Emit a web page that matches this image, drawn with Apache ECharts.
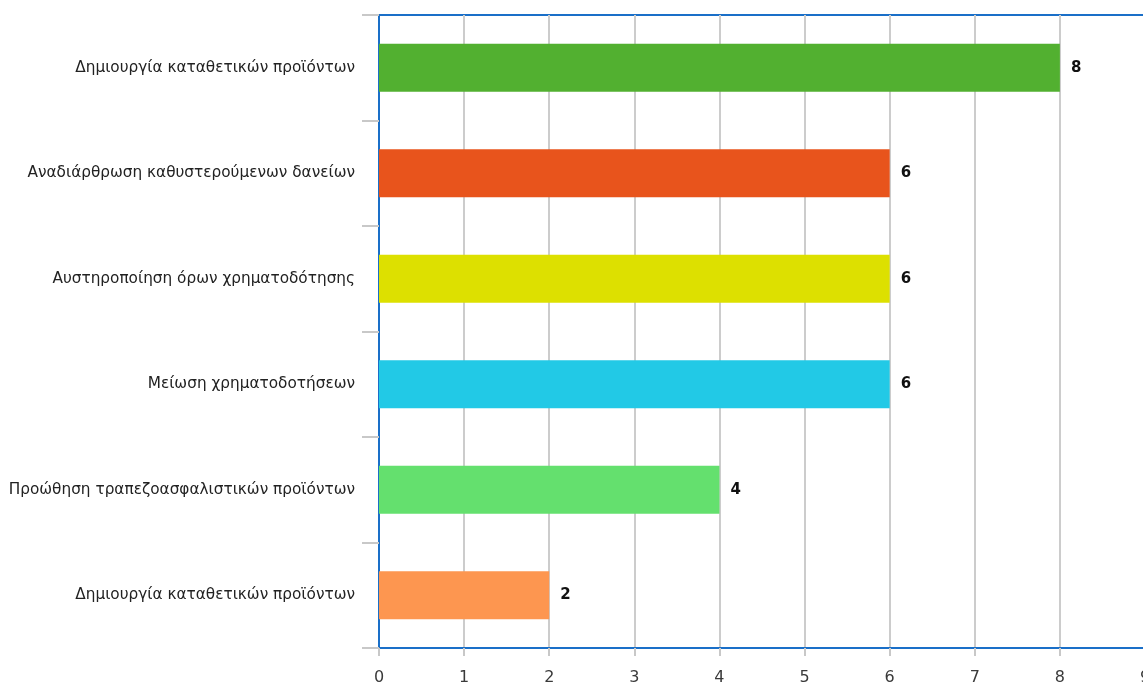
<!DOCTYPE html>
<html>
<head>
<meta charset="utf-8">
<script src="https://cdn.jsdelivr.net/npm/echarts@6/dist/echarts.min.js"></script>
<style>
html,body{margin:0;padding:0;background:#fff;}
#chart{width:1143px;height:687px;}
</style>
</head>
<body>
<div id="chart"></div>
<script>
const categories = [
  "Δημιουργία καταθετικών προϊόντων",
  "Αναδιάρθρωση καθυστερούμενων δανείων",
  "Αυστηροποίηση όρων χρηματοδότησης",
  "Μείωση χρηματοδοτήσεων",
  "Προώθηση τραπεζοασφαλιστικών προϊόντων",
  "Δημιουργία καταθετικών προϊόντων"
];
const values = [8, 6, 6, 6, 4, 2];
const barColors = ["#52b030", "#e8541c", "#dde000", "#22c9e6", "#64e06e", "#fd9650"];
const xTicks = [0, 1, 2, 3, 4, 5, 6, 7, 8, 9];

const chart = echarts.init(document.getElementById('chart'));
chart.setOption({
  animation: false,
  grid: {
    left: 379, top: 15, right: -2, bottom: 39,
    outerBoundsMode: 'none', containLabel: false,
    show: true, borderColor: '#1a6fc8', borderWidth: 2, backgroundColor: 'transparent'
  },
  xAxis: {
    type: 'value',
    min: xTicks[0], max: xTicks[xTicks.length - 1], interval: 1,
    axisLine: { show: true, lineStyle: { color: '#1a6fc8', width: 2 } },
    axisTick: { show: true, length: 8, lineStyle: { color: '#c8c8c8', width: 2 } },
    axisLabel: { color: '#3a3a3a', fontSize: 16, fontFamily: 'DejaVu Sans', margin: 22 },
    splitLine: { show: true, lineStyle: { color: '#cccccc', width: 2 } }
  },
  yAxis: {
    type: 'category',
    inverse: true,
    data: categories,
    axisLine: { show: true, lineStyle: { color: '#1a6fc8', width: 2 } },
    axisTick: { show: true, length: 17, lineStyle: { color: '#c8c8c8', width: 2 } },
    axisLabel: { color: '#222', fontSize: 15.3, fontFamily: 'DejaVu Sans', margin: 24 },
    splitLine: { show: false }
  },
  series: [{
    type: 'bar',
    barWidth: 48,
    data: values.map((v, i) => ({ value: v, itemStyle: { color: barColors[i] } })),
    label: {
      show: true, position: 'right', distance: 11,
      color: '#111', fontSize: 15, fontWeight: 'bold', fontFamily: 'DejaVu Sans'
    },
    z: 3
  }]
});
</script>
</body>
</html>
